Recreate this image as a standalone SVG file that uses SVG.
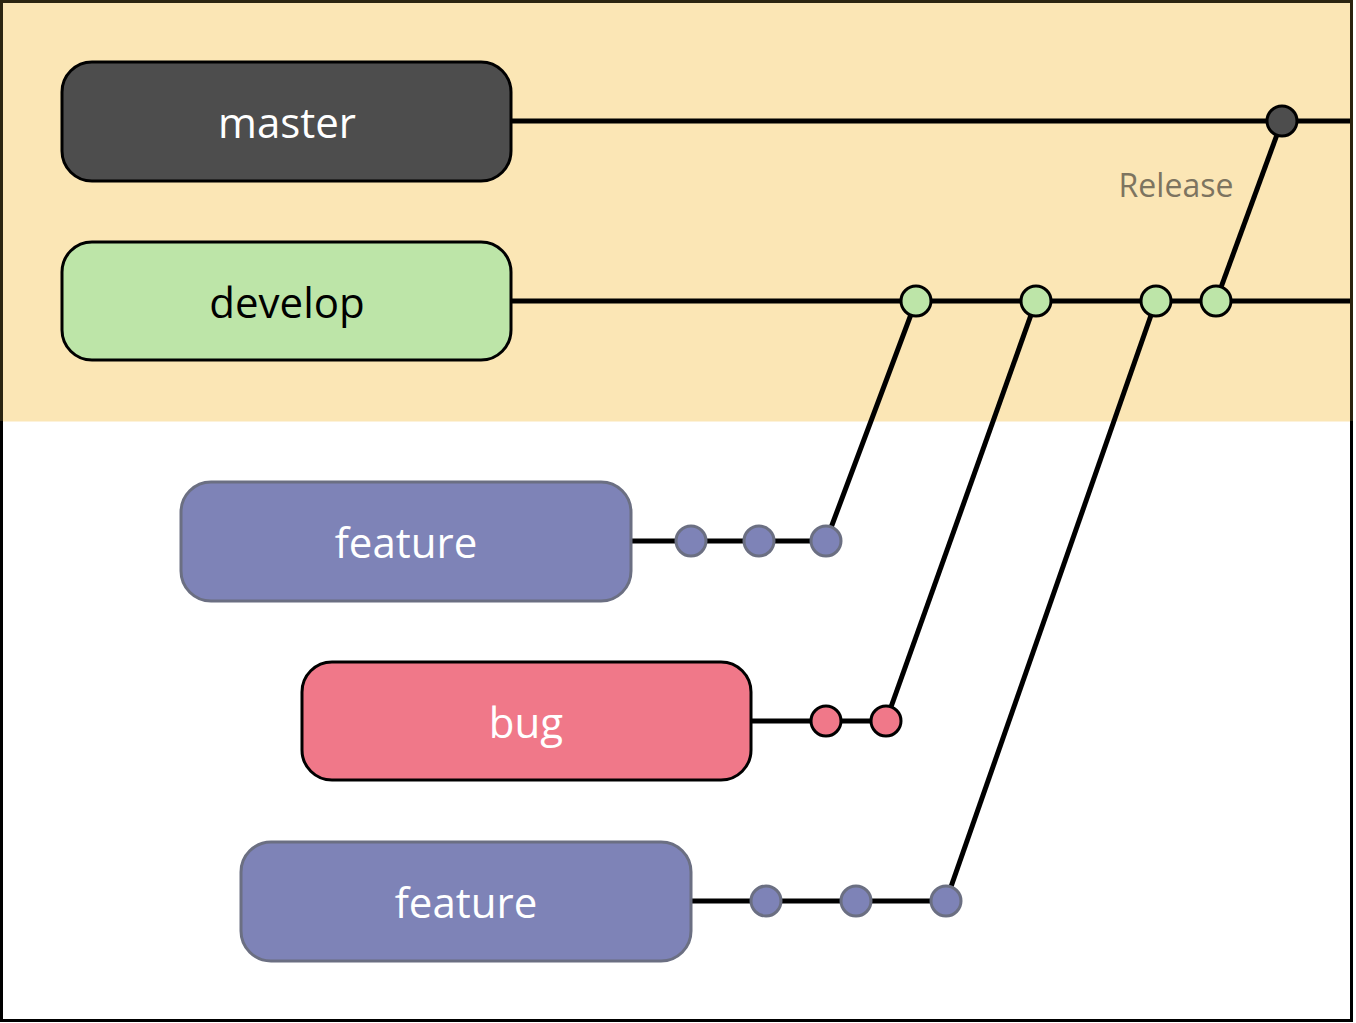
<svg xmlns="http://www.w3.org/2000/svg" width="1356" height="1023" viewBox="0 0 1356 1023">
  <style>
    .lbl { font-family: "Open Sans", "Noto Sans", "DejaVu Sans", sans-serif; font-size: 42px; font-weight: 500; text-anchor: middle; dominant-baseline: central; }
    .line { stroke: #000; stroke-width: 5; fill: none; }
    .commit { stroke-width: 3; }
    .dev { fill: #bde5a8; stroke: #000; }
    .mas { fill: #4d4d4d; stroke: #000; }
    .feat { fill: #7e83b7; stroke: #6b6f82; }
    .bugc { fill: #f07889; stroke: #000; }
  </style>
  <rect x="0" y="0" width="1356" height="1023" fill="#ffffff"/>
  <rect x="1.5" y="1.5" width="1350" height="420" fill="#fbe6b5"/>
  <rect x="1.5" y="1.5" width="1350" height="1019" fill="none" stroke="#000" stroke-width="3"/>
  <path d="M1.5,421 V1.5 H1351.5 V421" fill="none" stroke="#2b2410" stroke-width="3"/>

  <g id="connectors">
    <line class="line" x1="511" y1="121" x2="1350" y2="121"/>
    <line class="line" x1="511" y1="301" x2="1350" y2="301"/>
    <line class="line" x1="631" y1="541" x2="826" y2="541"/>
    <line class="line" x1="751" y1="721" x2="886" y2="721"/>
    <line class="line" x1="691" y1="901" x2="946" y2="901"/>
    <line class="line" x1="826" y1="541" x2="916" y2="301"/>
    <line class="line" x1="886" y1="721" x2="1036" y2="301"/>
    <line class="line" x1="946" y1="901" x2="1156" y2="301"/>
    <line class="line" x1="1216" y1="301" x2="1282" y2="121"/>
  </g>

  <g id="commits">
    <circle class="commit mas" cx="1282" cy="121" r="15"/>
    <circle class="commit dev" cx="916" cy="301" r="15"/>
    <circle class="commit dev" cx="1036" cy="301" r="15"/>
    <circle class="commit dev" cx="1156" cy="301" r="15"/>
    <circle class="commit dev" cx="1216" cy="301" r="15"/>
    <circle class="commit feat" cx="691" cy="541" r="15"/>
    <circle class="commit feat" cx="759" cy="541" r="15"/>
    <circle class="commit feat" cx="826" cy="541" r="15"/>
    <circle class="commit bugc" cx="826" cy="721" r="15"/>
    <circle class="commit bugc" cx="886" cy="721" r="15"/>
    <circle class="commit feat" cx="766" cy="901" r="15"/>
    <circle class="commit feat" cx="856" cy="901" r="15"/>
    <circle class="commit feat" cx="946" cy="901" r="15"/>
  </g>

  <g id="node-master">
    <rect x="62" y="62" width="449" height="119" rx="30" class="mas" stroke-width="3"/>
    <text x="287" y="121" class="lbl" fill="#ffffff">master</text>
  </g>
  <g id="node-develop">
    <rect x="62" y="242" width="449" height="118" rx="30" class="dev" stroke-width="3"/>
    <text x="287" y="301" class="lbl" fill="#000000">develop</text>
  </g>
  <g id="node-feature1">
    <rect x="181" y="482" width="450" height="119" rx="30" class="feat" stroke-width="3"/>
    <text x="406" y="541" class="lbl" fill="#ffffff">feature</text>
  </g>
  <g id="node-bug">
    <rect x="302" y="662" width="449" height="118" rx="30" class="bugc" stroke-width="3"/>
    <text x="526" y="721" class="lbl" fill="#ffffff">bug</text>
  </g>
  <g id="node-feature2">
    <rect x="241" y="842" width="450" height="119" rx="30" class="feat" stroke-width="3"/>
    <text x="466" y="901" class="lbl" fill="#ffffff">feature</text>
  </g>
  <g id="label-release">
    <text x="1176" y="184" class="lbl" style="font-size:32px" fill="#7d7460">Release</text>
  </g>
</svg>
